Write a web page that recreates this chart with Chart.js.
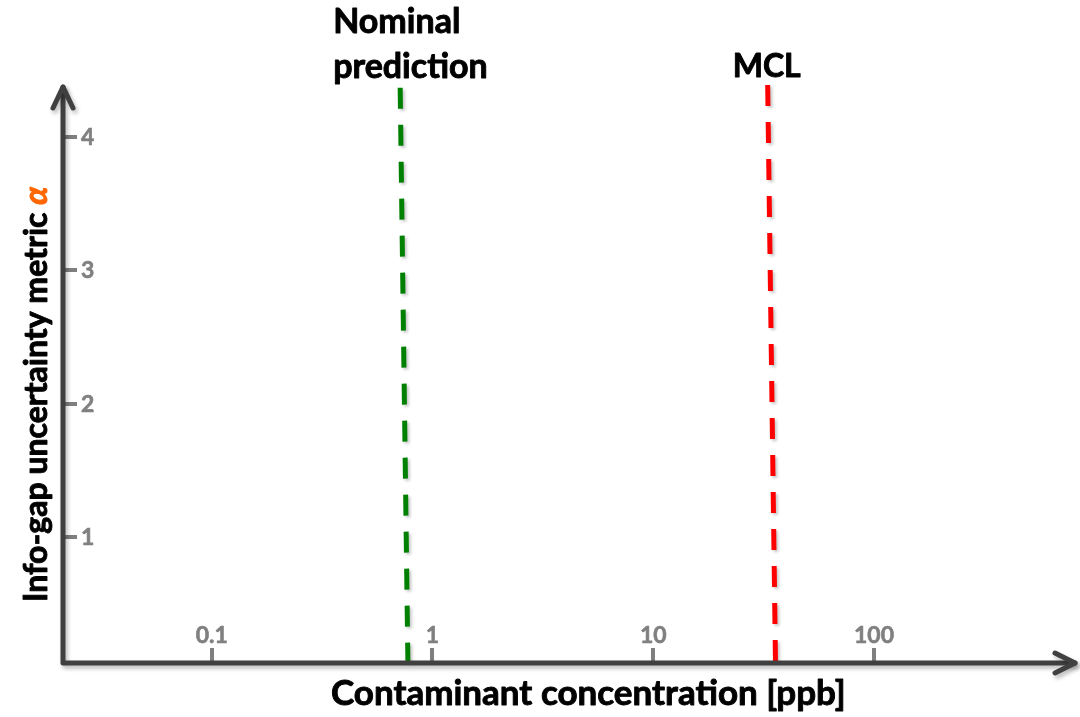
<!DOCTYPE html>
<html>
<head>
<meta charset="utf-8">
<title>Info-gap uncertainty</title>
<script src="https://cdn.jsdelivr.net/npm/chart.js@4/dist/chart.umd.min.js"></script>
<style>
  html, body { margin: 0; padding: 0; background: #fff; }
  #wrap { width: 1080px; height: 717px; }
</style>
</head>
<body>
<div id="wrap"><canvas id="infoGapChart" width="1080" height="717"></canvas></div>
<script>
// axis ticks
const xTicks = [0.1, 1, 10, 100];
const yTicks = [1, 2, 3, 4];
const xTickLabels = ['0.1', '1', '10', '100'];
const yTickLabels = ['1', '2', '3', '4'];

// vertical reference lines (top point first, bottom point second)
const nominalX = [0.714, 0.774];
const nominalY = [4.37, 0.06];
const mclX = [33.0, 35.8];
const mclY = [4.39, 0.06];

// visible extent of the axes
const xRange = [0.0212, 814];
const yRange = [0.055, 4.39];

const FONT = 'Lato, "Open Sans", sans-serif';

function pts(xs, ys) {
    return xs.map((v, i) => ({ x: v, y: ys[i] }));
}

function seg(ctx, x1, y1, x2, y2) {
    ctx.beginPath();
    ctx.moveTo(x1, y1);
    ctx.lineTo(x2, y2);
    ctx.stroke();
}

// bold text with a thin outline so it reads heavier
function heavyText(ctx, txt, x, y, weight) {
    ctx.fillText(txt, x, y);
    ctx.lineWidth = weight;
    ctx.strokeStyle = ctx.fillStyle;
    ctx.strokeText(txt, x, y);
}

// soft drop shadow under the dashed lines
const lineShadow = {
    id: 'lineShadow',
    beforeDatasetsDraw(chart) {
        const ctx = chart.ctx;
        ctx.save();
        ctx.shadowColor = 'rgba(0,0,0,0.22)';
        ctx.shadowBlur = 3;
        ctx.shadowOffsetX = 2;
        ctx.shadowOffsetY = 2;
    },
    afterDatasetsDraw(chart) {
        chart.ctx.restore();
    }
};

// arrow axes, ticks, labels and titles
const arrowAxes = {
    id: 'arrowAxes',
    afterDatasetsDraw(chart) {
        const { ctx, chartArea: a, scales: { x, y } } = chart;
        const x0 = a.left, y0 = a.bottom;
        ctx.save();

        // grey tick marks
        ctx.strokeStyle = '#7f7f7f';
        ctx.lineWidth = 4;
        ctx.lineCap = 'butt';
        xTicks.forEach(v => {
            const px = Math.round(x.getPixelForValue(v));
            seg(ctx, px, y0 - 15, px, y0);
        });
        yTicks.forEach(v => {
            const py = Math.round(y.getPixelForValue(v));
            seg(ctx, x0, py, x0 + 14, py);
        });

        // tick labels
        ctx.fillStyle = '#808080';
        ctx.font = 'bold 23px ' + FONT;
        ctx.textAlign = 'center';
        ctx.textBaseline = 'alphabetic';
        xTicks.forEach((v, i) => {
            heavyText(ctx, xTickLabels[i], x.getPixelForValue(v), y0 - 20, 0.6);
        });
        ctx.textAlign = 'left';
        yTicks.forEach((v, i) => {
            heavyText(ctx, yTickLabels[i], x0 + 18, y.getPixelForValue(v) + 8, 0.6);
        });

        // axis lines with arrow heads
        ctx.shadowColor = 'rgba(0,0,0,0.28)';
        ctx.shadowBlur = 4;
        ctx.shadowOffsetX = 2;
        ctx.shadowOffsetY = 3;
        ctx.strokeStyle = '#404040';
        ctx.lineWidth = 5;
        ctx.lineCap = 'round';
        ctx.lineJoin = 'round';
        const top = a.top + 2, right = a.right;
        ctx.beginPath();
        ctx.moveTo(x0, top);
        ctx.lineTo(x0, y0);
        ctx.lineTo(right, y0);
        ctx.stroke();
        ctx.beginPath();
        ctx.moveTo(x0 - 10, top + 21);
        ctx.lineTo(x0, top);
        ctx.lineTo(x0 + 10, top + 21);
        ctx.stroke();
        ctx.beginPath();
        ctx.moveTo(right - 20, y0 - 10);
        ctx.lineTo(right, y0);
        ctx.lineTo(right - 20, y0 + 10);
        ctx.stroke();
        ctx.restore();

        // line labels
        ctx.save();
        ctx.fillStyle = '#000';
        ctx.lineJoin = 'round';
        ctx.font = 'bold 34px ' + FONT;
        ctx.textAlign = 'left';
        const nx = x.getPixelForValue(nominalX[0]) - 67;
        heavyText(ctx, 'Nominal', nx, 33, 0.9);
        heavyText(ctx, 'prediction', nx, 78, 0.9);
        ctx.textAlign = 'center';
        ctx.font = 'bold 32px ' + FONT;
        heavyText(ctx, 'MCL', x.getPixelForValue(mclX[0]) - 1, 77, 0.9);

        // x axis title
        ctx.font = 'bold 35px ' + FONT;
        ctx.textAlign = 'left';
        heavyText(ctx, 'Contaminant concentration [ppb]', 331, 705, 0.9);

        // y axis title, rotated, with orange alpha
        ctx.translate(47, 602);
        ctx.rotate(-Math.PI / 2);
        ctx.font = 'bold 32px ' + FONT;
        const main = 'Info-gap uncertainty metric ';
        heavyText(ctx, main, 0, 0, 0.9);
        const w = ctx.measureText(main).width;
        ctx.fillStyle = '#ff6600';
        ctx.font = 'italic bold 32px ' + FONT;
        heavyText(ctx, '\u03b1', w, 0, 0.9);
        ctx.restore();
    }
};

new Chart(document.getElementById('infoGapChart'), {
    type: 'scatter',
    data: {
        datasets: [
            {
                label: 'Nominal prediction',
                data: pts(nominalX, nominalY),
                showLine: true,
                borderColor: '#008000',
                borderWidth: 5,
                borderDash: [21, 16],
                borderCapStyle: 'butt',
                pointRadius: 0,
                clip: false
            },
            {
                label: 'MCL',
                data: pts(mclX, mclY),
                showLine: true,
                borderColor: '#ff0000',
                borderWidth: 5,
                borderDash: [21, 16],
                borderCapStyle: 'butt',
                pointRadius: 0,
                clip: false
            }
        ]
    },
    options: {
        responsive: false,
        animation: false,
        layout: { padding: { left: 63, right: 5, top: 85, bottom: 54 } },
        plugins: {
            legend: { display: false },
            tooltip: { enabled: false }
        },
        scales: {
            x: { type: 'logarithmic', min: xRange[0], max: xRange[1], display: false },
            y: { type: 'linear', min: yRange[0], max: yRange[1], display: false }
        }
    },
    plugins: [lineShadow, arrowAxes]
});
</script>
</body>
</html>
